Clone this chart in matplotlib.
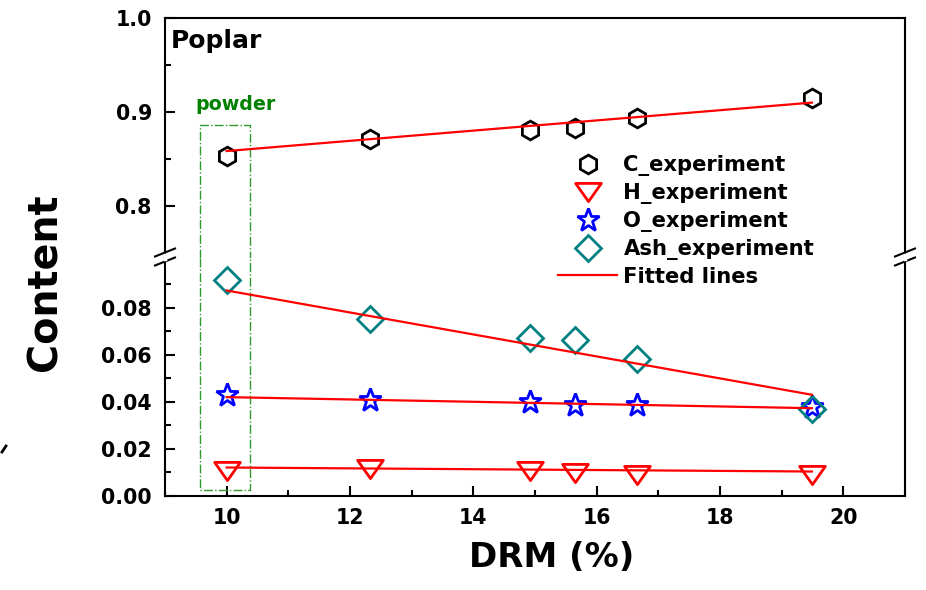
import numpy as np
import matplotlib
matplotlib.use("Agg")
import matplotlib.pyplot as plt
from matplotlib.lines import Line2D
from matplotlib.path import Path
from matplotlib.ticker import FixedLocator, MultipleLocator

plt.rcParams['font.family'] = ['DejaVu Sans']
plt.rcParams['font.weight'] = 'bold'

# DRM (%) and measured contents
drm = np.array([10.0, 12.32, 14.92, 15.65, 16.66, 19.49])
c_exp = np.array([0.8535, 0.871, 0.881, 0.883, 0.8933, 0.9146])
h_exp = np.array([0.0107, 0.0114, 0.0107, 0.0098, 0.0088, 0.0088])
o_exp = np.array([0.0427, 0.0406, 0.0399, 0.0385, 0.0385, 0.0378])
ash_exp = np.array([0.0919, 0.0751, 0.0670, 0.0662, 0.0580, 0.0368])

# fitted lines (end points)
fit_x = np.array([10.0, 19.49])
c_fit = np.array([0.8585, 0.9099])
h_fit = np.array([0.0121, 0.0104])
o_fit = np.array([0.0420, 0.0373])
ash_fit = np.array([0.0873, 0.0430])

powder_x = [9.57, 10.38]
powder_top = 0.8866
powder_bottom = 0.0026

W, H = 926, 590
fig = plt.figure(figsize=(W / 100, H / 100), dpi=100)
left, right = 165 / W, 905 / W
y_top, y_brk, y_bot = 1 - 17.7 / H, 1 - 258 / H, 1 - 496 / H
ax_t = fig.add_axes([left, y_brk, right - left, y_top - y_brk])
ax_b = fig.add_axes([left, y_bot, right - left, y_brk - y_bot], sharex=ax_t)

# wide down-triangle, closed
tri = Path([(-1.37, 0.97), (1.37, 0.97), (0.0, -0.97), (-1.37, 0.97)],
           [Path.MOVETO, Path.LINETO, Path.LINETO, Path.CLOSEPOLY])
mk = dict(linestyle='none', markerfacecolor='none', markeredgewidth=2)

for ax in (ax_t, ax_b):
    for s in ax.spines.values():
        s.set_linewidth(1.5)
    ax.tick_params(axis='both', which='both', direction='in', width=1.5,
                   labelsize=14.8, right=False, top=False)
    ax.tick_params(axis='both', which='major', length=7.5)
    ax.tick_params(axis='both', which='minor', length=4)
    ax.tick_params(axis='y', pad=9.5)
    ax.tick_params(axis='x', pad=8.5)

ax_t.spines['bottom'].set_visible(False)
ax_b.spines['top'].set_visible(False)
ax_t.tick_params(axis='x', which='both', bottom=False, labelbottom=False)

# top part: C
h_c, = ax_t.plot(drm, c_exp, marker='h', markersize=13.5,
                 markeredgecolor='black', label='C_experiment', **mk)
ax_t.plot(fit_x, c_fit, color='red', lw=1.6, zorder=3)
ax_t.set_ylim(0.745, 1.0)
ax_t.yaxis.set_major_locator(FixedLocator([0.8, 0.9, 1.0]))
ax_t.yaxis.set_minor_locator(FixedLocator([0.85, 0.95]))
ax_t.set_yticklabels(['0.8', '0.9', '1.0'])

# bottom part: H, O, Ash
h_h, = ax_b.plot(drm, h_exp, marker=tri, markersize=18.5,
                 markeredgecolor='red', label='H_experiment', **mk)
h_o, = ax_b.plot(drm, o_exp, marker='*', markersize=17,
                 markeredgecolor='blue', label='O_experiment', **mk)
h_a, = ax_b.plot(drm, ash_exp, marker='D', markersize=13.2,
                 markeredgecolor='#008080', label='Ash_experiment', **mk)
ax_b.plot(fit_x, ash_fit, color='red', lw=1.6, zorder=3)
ax_b.plot(fit_x, o_fit, color='red', lw=1.6, zorder=3)
ax_b.plot(fit_x, h_fit, color='red', lw=1.6, zorder=3)
ax_b.set_ylim(0, 0.1011)
ax_b.yaxis.set_major_locator(FixedLocator([0, 0.02, 0.04, 0.06, 0.08]))
ax_b.yaxis.set_minor_locator(FixedLocator([0.01, 0.03, 0.05, 0.07, 0.09]))
ax_b.set_yticklabels(['0.00', '0.02', '0.04', '0.06', '0.08'])
ax_b.set_xlim(9, 21)
ax_b.xaxis.set_major_locator(MultipleLocator(2))
ax_b.xaxis.set_minor_locator(MultipleLocator(1))

# powder box (dash-dot) spanning the break
gc = '#2e9a2e'
ax_t.plot([powder_x[0], powder_x[0], powder_x[1], powder_x[1]],
          [0.745, powder_top, powder_top, 0.745], color=gc, lw=1, ls='-.', clip_on=False)
ax_b.plot([powder_x[0], powder_x[0], powder_x[1], powder_x[1]],
          [0.1011, powder_bottom, powder_bottom, 0.1011], color=gc, lw=1, ls='-.', clip_on=False)
ax_t.text(np.mean(powder_x) + 0.17, 0.902, 'powder', color='#008000', fontsize=13.7,
          fontweight='bold', ha='center', va='baseline')

ax_t.text(0.008, 0.955, 'Poplar', transform=ax_t.transAxes, fontsize=18,
          fontweight='bold', ha='left', va='top')

# break marks on the left and right spines
for xc in (165, 905):
    for dy in (-4.5, 4.5):
        x0, x1 = (xc - 10) / W, (xc + 10) / W
        ya, yb = 1 - (257 + dy + 4) / H, 1 - (257 + dy - 4) / H
        fig.add_artist(Line2D([x0, x1], [ya, yb], color='black', lw=1.5))
    fig.add_artist(Line2D([xc / W, xc / W], [1 - 255 / H, 1 - 259 / H],
                          color='white', lw=2.5))

fit_handle = Line2D([], [], color='red', lw=1.6)
fig.legend([h_c, h_h, h_o, h_a, fit_handle],
           ['C_experiment', 'H_experiment', 'O_experiment', 'Ash_experiment', 'Fitted lines'],
           loc='upper left', bbox_to_anchor=(558 / W, 1 - 155 / H), frameon=False,
           prop={'size': 15.2, 'weight': 'bold'}, handlelength=2.8, handletextpad=0.3,
           labelspacing=0.33, borderpad=0, borderaxespad=0)

fig.text(552 / W, 1 - 567 / H, 'DRM (%)', fontsize=24.5, fontweight='bold',
         ha='center', va='baseline')
fig.text(46 / W, 1 - 282 / H, 'Content', fontsize=28.5, fontweight='bold',
         rotation=90, ha='center', va='center')

fig.add_artist(Line2D([2 / W, 6 / W], [1 - 452 / H, 1 - 446 / H], color='black', lw=2))

fig.savefig('out.png', dpi=100)
